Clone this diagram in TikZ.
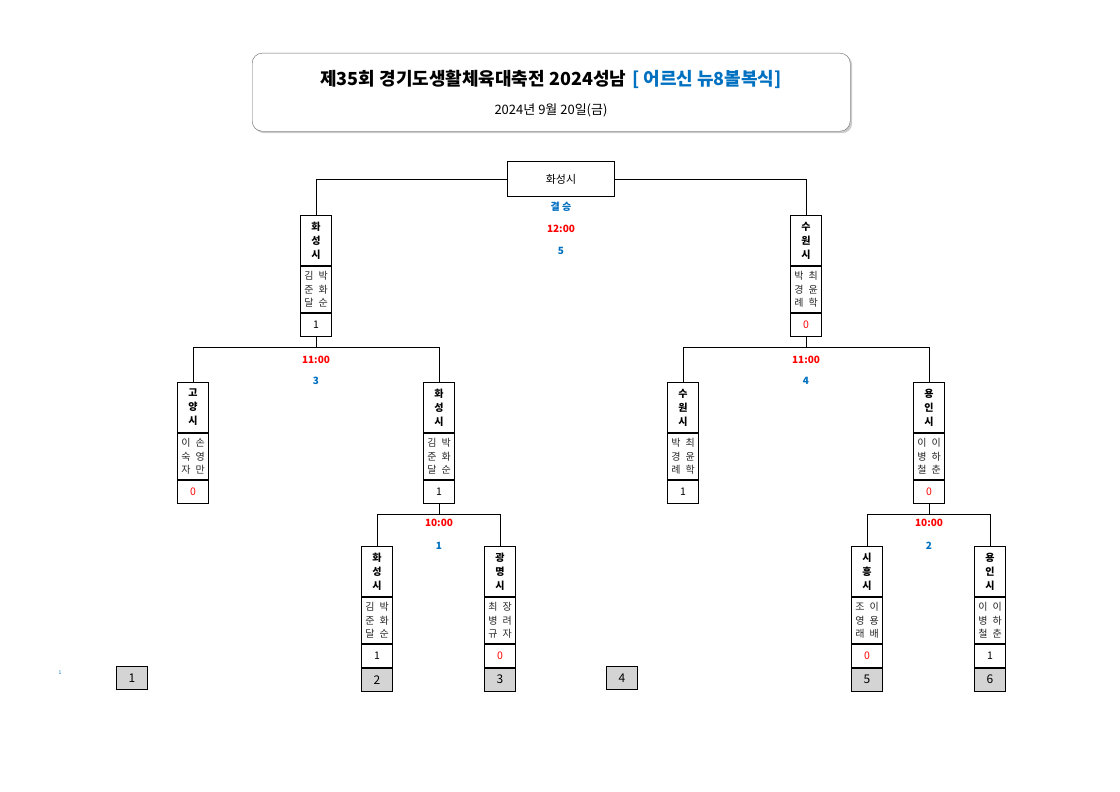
\documentclass[tikz,border=0pt]{standalone}
\usepackage{fontspec}
\setmainfont{Noto Sans CJK KR}
\usetikzlibrary{calc,shadows}
\definecolor{bl}{RGB}{0,112,192}
\definecolor{rd}{RGB}{255,0,0}
\tikzset{
 nmbox/.style={draw,line width=0.9pt,anchor=north,minimum width=31,minimum height=50,inner sep=0,align=center,font=\fontsize{10}{14}\selectfont\bfseries},
 mbbox/.style={draw,line width=0.9pt,anchor=north,minimum width=31,minimum height=46,inner sep=0,align=center,font=\fontsize{10}{13.5}\selectfont,text=black!85},
 scbox/.style={draw,line width=0.9pt,anchor=north,minimum width=31,minimum height=23,inner sep=0,font=\fontsize{10.5}{11}\selectfont},
 seedbox/.style={draw,line width=0.9pt,anchor=north,fill=black!17,minimum width=31,minimum height=23,inner sep=0,font=\fontsize{12}{13}\selectfont},
 ln/.style={line width=0.9pt},
 tm/.style={font=\fontsize{10}{11}\selectfont\bfseries,text=rd},
 nb/.style={font=\fontsize{10}{11}\selectfont\bfseries,text=bl}
}
\newcommand\team[6]{%
 \node[nmbox] (#1n) at (#2,#3) {#4};
 \node[mbbox] (#1m) at (#1n.south) {#5};
 \node[scbox] (#1s) at (#1m.south) {#6};}
\newcommand\mb[6]{#1\hspace{5pt}#2\\#3\hspace{5pt}#4\\#5\hspace{5pt}#6}
\begin{document}
\begin{tikzpicture}[x=1pt,y=-1pt]
\useasboundingbox (0,0) rectangle (1120,792);
% title
\node[draw=black!60,rounded corners=10,fill=white,drop shadow={shadow xshift=2pt,shadow yshift=-2pt,fill=black!40},minimum width=598,minimum height=78,anchor=north west] (tb) at (252,53) {};
\node[font=\fontsize{18}{19}\selectfont\bfseries] (t1) at (551,79) {제35회 경기도생활체육대축전 2024성남\hspace{6pt}\textcolor{bl}{[ 어르신 뉴8볼복식]}};
\node[font=\fontsize{13}{14}\selectfont] (t2) at (551,110) {2024년 9월 20일(금)};
% final
\node[draw,line width=0.9pt,minimum width=107,minimum height=35,font=\fontsize{11}{12}\selectfont,anchor=north west] (fin) at (507,161) {화성시};
\node[nb] (lf1) at (561,207) {결 승};
\node[tm] (lf2) at (561,229) {12:00};
\node[nb] (lf3) at (561,251) {5};
% teams
\team{SL}{316}{215}{화\\성\\시}{\mb{김}{박}{준}{화}{달}{순}}{1}
\team{SR}{806}{215}{수\\원\\시}{\mb{박}{최}{경}{윤}{례}{학}}{\textcolor{rd}{0}}
\team{QA}{193}{382}{고\\양\\시}{\mb{이}{손}{숙}{영}{자}{만}}{\textcolor{rd}{0}}
\team{QB}{439}{382}{화\\성\\시}{\mb{김}{박}{준}{화}{달}{순}}{1}
\team{QC}{683}{382}{수\\원\\시}{\mb{박}{최}{경}{윤}{례}{학}}{1}
\team{QD}{929}{382}{용\\인\\시}{\mb{이}{이}{병}{하}{철}{춘}}{\textcolor{rd}{0}}
\team{RA}{377}{546}{화\\성\\시}{\mb{김}{박}{준}{화}{달}{순}}{1}
\team{RB}{500}{546}{광\\명\\시}{\mb{최}{장}{병}{려}{규}{자}}{\textcolor{rd}{0}}
\team{RC}{867}{546}{시\\흥\\시}{\mb{조}{이}{영}{용}{래}{배}}{\textcolor{rd}{0}}
\team{RD}{990}{546}{용\\인\\시}{\mb{이}{이}{병}{하}{철}{춘}}{1}
% seeds
\node[seedbox] (s1) at (132,666) {1};
\node[seedbox] (s2) at (RAs.south) {2};
\node[seedbox] (s3) at (RBs.south) {3};
\node[seedbox] (s4) at (622,666) {4};
\node[seedbox] (s5) at (RCs.south) {5};
\node[seedbox] (s6) at (RDs.south) {6};
\node[font=\fontsize{5}{6}\selectfont,text=bl] (tiny) at (60,673) {1};
% connectors
\draw[ln] (fin.west) -| (SLn.north);
\draw[ln] (fin.east) -| (SRn.north);
\coordinate (jL) at ($(SLs.south)+(0,11)$);
\coordinate (jR) at ($(SRs.south)+(0,11)$);
\coordinate (jB) at ($(QBs.south)+(0,11)$);
\coordinate (jD) at ($(QDs.south)+(0,11)$);
\draw[ln] (SLs.south) -- (jL);
\draw[ln] (QAn.north) |- (jL) -| (QBn.north);
\draw[ln] (SRs.south) -- (jR);
\draw[ln] (QCn.north) |- (jR) -| (QDn.north);
\draw[ln] (QBs.south) -- (jB);
\draw[ln] (RAn.north) |- (jB) -| (RBn.north);
\draw[ln] (QDs.south) -- (jD);
\draw[ln] (RCn.north) |- (jD) -| (RDn.north);
% round labels
\node[tm] (l1) at (316,360) {11:00};
\node[nb] (l2) at (316,381) {3};
\node[tm] (l3) at (806,360) {11:00};
\node[nb] (l4) at (806,381) {4};
\node[tm] (l5) at (439,523) {10:00};
\node[nb] (l6) at (439,546) {1};
\node[tm] (l7) at (929,523) {10:00};
\node[nb] (l8) at (929,546) {2};
\end{tikzpicture}
\end{document}
